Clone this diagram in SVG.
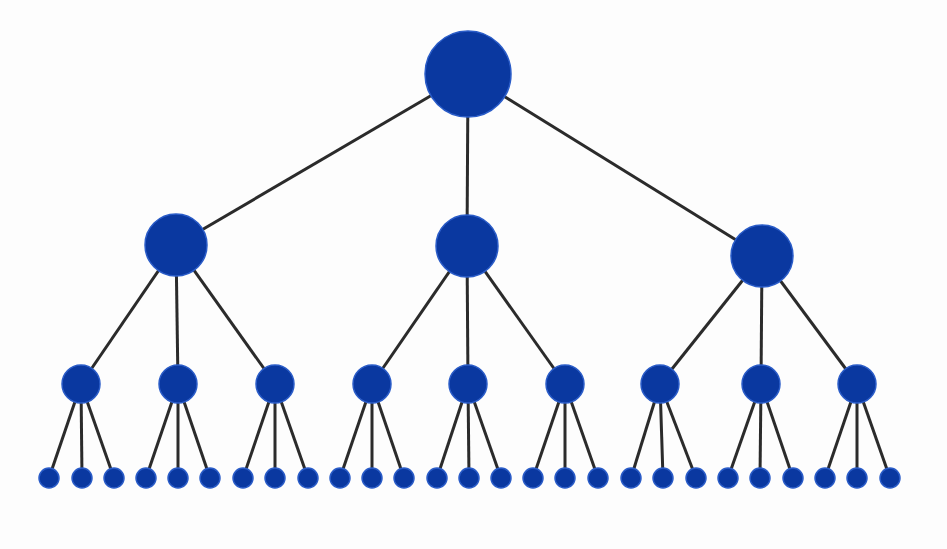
<svg xmlns="http://www.w3.org/2000/svg" width="947" height="549" viewBox="0 0 947 549">
<style>
.e{stroke:#2b2b2b;stroke-width:3;fill:none}
.n{fill:#0a38a0;stroke:#2a5cc8;stroke-width:1.5}
</style>
<rect width="947" height="549" fill="#fdfdfd"/>
<g id="connectors" class="e">
<line x1="468" y1="74" x2="176" y2="245"/>
<line x1="468" y1="74" x2="467" y2="246"/>
<line x1="468" y1="74" x2="762" y2="256"/>
<line x1="176" y1="245" x2="81" y2="384"/>
<line x1="176" y1="245" x2="178" y2="384"/>
<line x1="176" y1="245" x2="275" y2="384"/>
<line x1="467" y1="246" x2="372" y2="384"/>
<line x1="467" y1="246" x2="468" y2="384"/>
<line x1="467" y1="246" x2="565" y2="384"/>
<line x1="762" y1="256" x2="660" y2="384"/>
<line x1="762" y1="256" x2="761" y2="384"/>
<line x1="762" y1="256" x2="857" y2="384"/>
<line x1="81" y1="384" x2="49" y2="478"/><line x1="81" y1="384" x2="82" y2="478"/><line x1="81" y1="384" x2="114" y2="478"/>
<line x1="178" y1="384" x2="146" y2="478"/><line x1="178" y1="384" x2="178" y2="478"/><line x1="178" y1="384" x2="210" y2="478"/>
<line x1="275" y1="384" x2="243" y2="478"/><line x1="275" y1="384" x2="275" y2="478"/><line x1="275" y1="384" x2="308" y2="478"/>
<line x1="372" y1="384" x2="340" y2="478"/><line x1="372" y1="384" x2="372" y2="478"/><line x1="372" y1="384" x2="404" y2="478"/>
<line x1="468" y1="384" x2="437" y2="478"/><line x1="468" y1="384" x2="469" y2="478"/><line x1="468" y1="384" x2="501" y2="478"/>
<line x1="565" y1="384" x2="533" y2="478"/><line x1="565" y1="384" x2="565" y2="478"/><line x1="565" y1="384" x2="598" y2="478"/>
<line x1="660" y1="384" x2="631" y2="478"/><line x1="660" y1="384" x2="663" y2="478"/><line x1="660" y1="384" x2="696" y2="478"/>
<line x1="761" y1="384" x2="728" y2="478"/><line x1="761" y1="384" x2="760" y2="478"/><line x1="761" y1="384" x2="793" y2="478"/>
<line x1="857" y1="384" x2="825" y2="478"/><line x1="857" y1="384" x2="857" y2="478"/><line x1="857" y1="384" x2="890" y2="478"/>
</g>
<g id="root"><circle class="n" cx="468" cy="74" r="43"/></g>
<g id="m1"><circle class="n" cx="176" cy="245" r="31"/></g>
<g id="m2"><circle class="n" cx="467" cy="246" r="31"/></g>
<g id="m3"><circle class="n" cx="762" cy="256" r="31"/></g>
<g id="s1"><circle class="n" cx="81" cy="384" r="19"/></g>
<g id="s2"><circle class="n" cx="178" cy="384" r="19"/></g>
<g id="s3"><circle class="n" cx="275" cy="384" r="19"/></g>
<g id="s4"><circle class="n" cx="372" cy="384" r="19"/></g>
<g id="s5"><circle class="n" cx="468" cy="384" r="19"/></g>
<g id="s6"><circle class="n" cx="565" cy="384" r="19"/></g>
<g id="s7"><circle class="n" cx="660" cy="384" r="19"/></g>
<g id="s8"><circle class="n" cx="761" cy="384" r="19"/></g>
<g id="s9"><circle class="n" cx="857" cy="384" r="19"/></g>
<g id="l1"><circle class="n" cx="49" cy="478" r="10"/></g>
<g id="l2"><circle class="n" cx="82" cy="478" r="10"/></g>
<g id="l3"><circle class="n" cx="114" cy="478" r="10"/></g>
<g id="l4"><circle class="n" cx="146" cy="478" r="10"/></g>
<g id="l5"><circle class="n" cx="178" cy="478" r="10"/></g>
<g id="l6"><circle class="n" cx="210" cy="478" r="10"/></g>
<g id="l7"><circle class="n" cx="243" cy="478" r="10"/></g>
<g id="l8"><circle class="n" cx="275" cy="478" r="10"/></g>
<g id="l9"><circle class="n" cx="308" cy="478" r="10"/></g>
<g id="l10"><circle class="n" cx="340" cy="478" r="10"/></g>
<g id="l11"><circle class="n" cx="372" cy="478" r="10"/></g>
<g id="l12"><circle class="n" cx="404" cy="478" r="10"/></g>
<g id="l13"><circle class="n" cx="437" cy="478" r="10"/></g>
<g id="l14"><circle class="n" cx="469" cy="478" r="10"/></g>
<g id="l15"><circle class="n" cx="501" cy="478" r="10"/></g>
<g id="l16"><circle class="n" cx="533" cy="478" r="10"/></g>
<g id="l17"><circle class="n" cx="565" cy="478" r="10"/></g>
<g id="l18"><circle class="n" cx="598" cy="478" r="10"/></g>
<g id="l19"><circle class="n" cx="631" cy="478" r="10"/></g>
<g id="l20"><circle class="n" cx="663" cy="478" r="10"/></g>
<g id="l21"><circle class="n" cx="696" cy="478" r="10"/></g>
<g id="l22"><circle class="n" cx="728" cy="478" r="10"/></g>
<g id="l23"><circle class="n" cx="760" cy="478" r="10"/></g>
<g id="l24"><circle class="n" cx="793" cy="478" r="10"/></g>
<g id="l25"><circle class="n" cx="825" cy="478" r="10"/></g>
<g id="l26"><circle class="n" cx="857" cy="478" r="10"/></g>
<g id="l27"><circle class="n" cx="890" cy="478" r="10"/></g>
</svg>
